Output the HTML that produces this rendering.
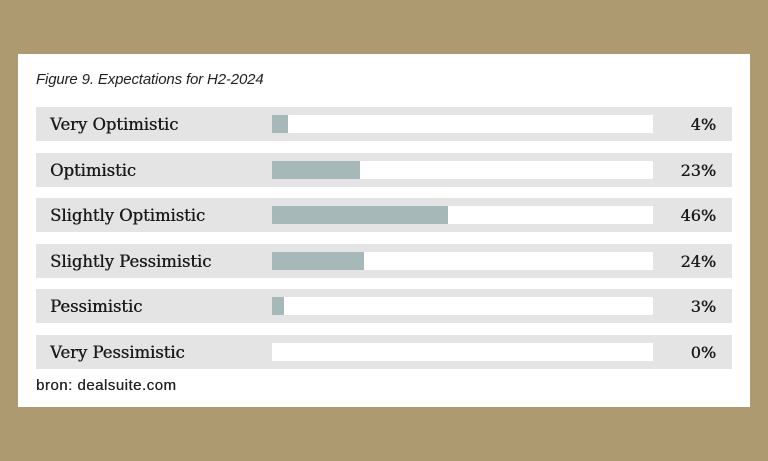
<!DOCTYPE html>
<html><head><style>
body{margin:0;width:768px;height:461px;background:#ad9a70;position:relative;overflow:hidden}
.panel{position:absolute;left:18px;top:54px;width:732px;height:353px;background:#fff}
.title{position:absolute;left:36px;top:71px;font:italic 15px "Liberation Sans",sans-serif;color:#222;letter-spacing:-0.15px}
.row{position:absolute;left:36px;width:696px;height:34px;background:#e4e4e4}
.lab{position:absolute;left:14px;top:8px;font:16.4px "DejaVu Serif",serif;color:#1a1a1a;text-shadow:0.4px 0 0 #1a1a1a}
.track{position:absolute;left:236px;top:8px;width:381px;height:18px;background:#fff}
.fill{position:absolute;left:0;top:0;height:18px;background:#a7b8b8}
.val{position:absolute;right:16px;top:8px;font:16px "DejaVu Serif",serif;color:#1a1a1a;text-shadow:0.4px 0 0 #1a1a1a}
.src{position:absolute;left:36px;top:377px;font:15px "Liberation Sans",sans-serif;color:#222;letter-spacing:0.5px;text-shadow:0.3px 0 0 #222}
</style></head><body>
<div class="panel"></div>
<div class="title">Figure 9. Expectations for H2-2024</div>
<div class="row" style="top:107px"><span class="lab">Very Optimistic</span><div class="track"><div class="fill" style="width:16px"></div></div><span class="val">4%</span></div>
<div class="row" style="top:153px"><span class="lab">Optimistic</span><div class="track"><div class="fill" style="width:88px"></div></div><span class="val">23%</span></div>
<div class="row" style="top:198px"><span class="lab">Slightly Optimistic</span><div class="track"><div class="fill" style="width:176px"></div></div><span class="val">46%</span></div>
<div class="row" style="top:244px"><span class="lab">Slightly Pessimistic</span><div class="track"><div class="fill" style="width:92px"></div></div><span class="val">24%</span></div>
<div class="row" style="top:289px"><span class="lab">Pessimistic</span><div class="track"><div class="fill" style="width:12px"></div></div><span class="val">3%</span></div>
<div class="row" style="top:335px"><span class="lab">Very Pessimistic</span><div class="track"></div><span class="val">0%</span></div>
<div class="src">bron: dealsuite.com</div>
</body></html>
